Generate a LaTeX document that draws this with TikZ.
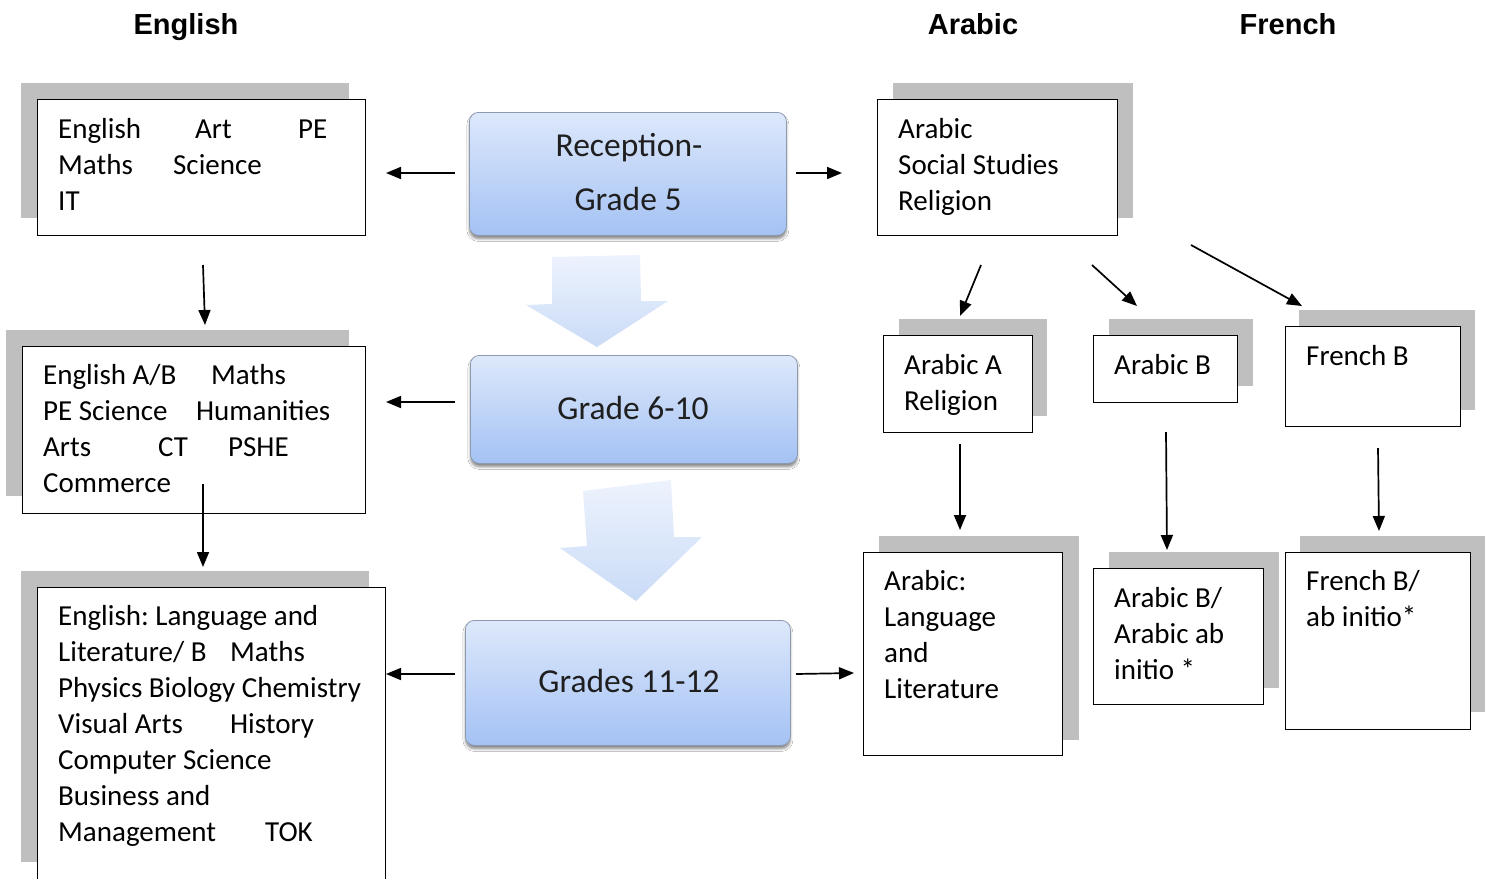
\documentclass[tikz,border=0pt]{standalone}
\usepackage{fontspec}
\setmainfont{Carlito}
\newfontfamily\hdrfont{Liberation Sans}
\usetikzlibrary{arrows.meta,shadows.blur}
\definecolor{shgray}{HTML}{BFBFBF}
\definecolor{stagetop}{HTML}{DDE8FB}
\definecolor{stagebot}{HTML}{A4C2F4}
\definecolor{stageedge}{HTML}{8C9AB0}
\definecolor{arrtop}{HTML}{EDF3FD}
\definecolor{arrbot}{HTML}{CADBF7}
\frenchspacing
\begin{document}
\begin{tikzpicture}[x=1pt,y=-1pt,
  hdr/.style={font=\hdrfont\bfseries\fontsize{29}{34}\selectfont, anchor=base, inner sep=0pt},
  sbox/.style={draw=black, line width=1.3pt, fill=white, anchor=north west, inner sep=0pt},
  txt/.style={anchor=base west, inner sep=0pt, font=\fontsize{29}{36}\selectfont},
  stage/.style={rounded corners=9pt, draw=stageedge, line width=0.8pt, top color=stagetop, bottom color=stagebot,
    anchor=north west, inner sep=0pt,
    blur shadow={shadow xshift=0pt, shadow yshift=-3.5pt, shadow blur radius=2.5pt, shadow opacity=45}},
  stagetxt/.style={anchor=base, inner sep=0pt, font=\fontsize{33.5}{40}\selectfont, text=black!88},
  conn/.style={line width=1.7pt, -{Triangle[length=15pt,width=12pt]}},
  blockarrow/.style={top color=arrtop, bottom color=arrbot, draw=none}]
\clip (0,0) rectangle (1493,878);
\fill[white] (0,0) rectangle (1493,878);

% headers
\node[hdr] (hen) at (186,34) {English};
\node[hdr] (har) at (973,34) {Arabic};
\node[hdr] (hfr) at (1288,34) {French};

% shadows of the subject boxes
\fill[shgray] (21,83) rectangle (349,218);
\fill[shgray] (893,83) rectangle (1133,218);
\fill[shgray] (6,330) rectangle (349,496);
\fill[shgray] (21,571) rectangle (369,862);
\fill[shgray] (899,319) rectangle (1047,416);
\fill[shgray] (1109,319) rectangle (1253,386);
\fill[shgray] (1299,310) rectangle (1475,410);
\fill[shgray] (879,536) rectangle (1079,740);
\fill[shgray] (1109,552) rectangle (1279,688);
\fill[shgray] (1300,536) rectangle (1485,712);

% subject boxes
\node[sbox, minimum width=328pt, minimum height=136pt] (e1) at (37,99) {};
\node[sbox, minimum width=240pt, minimum height=136pt] (a1) at (877,99) {};
\node[sbox, minimum width=343pt, minimum height=167pt] (e2) at (22,346) {};
\node[sbox, minimum width=348pt, minimum height=310pt] (e3) at (37,587) {};
\node[sbox, minimum width=149pt, minimum height=97pt] (aa) at (883,335) {};
\node[sbox, minimum width=144pt, minimum height=67pt] (ab) at (1093,335) {};
\node[sbox, minimum width=175pt, minimum height=100pt] (fb) at (1285,326) {};
\node[sbox, minimum width=199pt, minimum height=203pt] (al) at (863,552) {};
\node[sbox, minimum width=170pt, minimum height=136pt] (abi) at (1093,568) {};
\node[sbox, minimum width=185pt, minimum height=177pt] (fbi) at (1285,552) {};

% texts of subject boxes
\node[txt] (e1t) at (58,138) {\vtop{\hbox{\makebox[137pt][l]{English}\makebox[103pt][l]{Art}PE}\hbox{\makebox[115pt][l]{Maths}Science}\hbox{IT}}};
\node[txt] (a1t) at (898,138) {\vtop{\hbox{Arabic}\hbox{Social Studies}\hbox{Religion}}};
\node[txt] (e2t) at (43,384) {\vtop{\hbox{\makebox[168pt][l]{English A/B}Maths}\hbox{\makebox[153pt][l]{PE Science}Humanities}\hbox{\makebox[115pt][l]{Arts}\makebox[70pt][l]{CT}PSHE}\hbox{Commerce}}};
\node[txt] (e3t) at (58,625) {\vtop{\hbox{English: Language and}\hbox{\makebox[172pt][l]{Literature/ B}Maths}\hbox{Physics Biology Chemistry}\hbox{\makebox[172pt][l]{Visual Arts}History}\hbox{Computer Science}\hbox{Business and}\hbox{\makebox[207pt][l]{Management}TOK}}};
\node[txt] (aat) at (904,374) {\vtop{\hbox{Arabic A}\hbox{Religion}}};
\node[txt] (abt) at (1114,374) {Arabic B};
\node[txt] (fbt) at (1306,365) {French B};
\node[txt] (alt) at (884,590) {\vtop{\hbox{Arabic:}\hbox{Language}\hbox{and}\hbox{Literature}}};
\node[txt] (abit) at (1114,607) {\vtop{\hbox{Arabic B/}\hbox{Arabic ab}\hbox{initio *}}};
\node[txt] (fbit) at (1306,590) {\vtop{\hbox{French B/}\hbox{ab initio*}}};

% stage boxes
\node[stage, minimum width=317pt, minimum height=123pt] (c1) at (469,112) {};
\node[stage, minimum width=327pt, minimum height=108pt] (c2) at (470,355) {};
\node[stage, minimum width=325pt, minimum height=125pt] (c3) at (465,620) {};
\node[stagetxt] (c1ta) at (629,156) {Reception-};
\node[stagetxt] (c1tb) at (628,210) {Grade 5};
\node[stagetxt] (c2t) at (633,419) {Grade 6-10};
\node[stagetxt] (c3t) at (629,692) {Grades 11-12};

% block arrows between stages
\shade[blockarrow] (552,257) -- (640,255) -- (641,301) -- (668,301) -- (597,347) -- (526,305) -- (552,304) -- cycle;
\shade[blockarrow] (583,491) -- (671,480) -- (674,537) -- (702,537) -- (636,601) -- (560,548) -- (587,546) -- cycle;

% connector end points
\coordinate (p1s) at (455,173); \coordinate (p1e) at (386,173);
\coordinate (p2s) at (796,173); \coordinate (p2e) at (842,173);
\coordinate (p3s) at (203,265); \coordinate (p3e) at (205,325);
\coordinate (p4s) at (455,402); \coordinate (p4e) at (386,402);
\coordinate (p5s) at (203,484); \coordinate (p5e) at (203,567);
\coordinate (p6s) at (455,674); \coordinate (p6e) at (386,674);
\coordinate (p7s) at (796,674); \coordinate (p7e) at (854,673);
\coordinate (p8s) at (981,265); \coordinate (p8e) at (960,316);
\coordinate (p9s) at (1092,265); \coordinate (p9e) at (1137,306);
\coordinate (p10s) at (1191,245); \coordinate (p10e) at (1302,306);
\coordinate (p11s) at (960,444); \coordinate (p11e) at (960,530);
\coordinate (p12s) at (1166,432); \coordinate (p12e) at (1167,550);
\coordinate (p13s) at (1378,448); \coordinate (p13e) at (1379,531);

\foreach \i in {1,...,13} \draw[conn] (p\i s) -- (p\i e);
\end{tikzpicture}
\end{document}
